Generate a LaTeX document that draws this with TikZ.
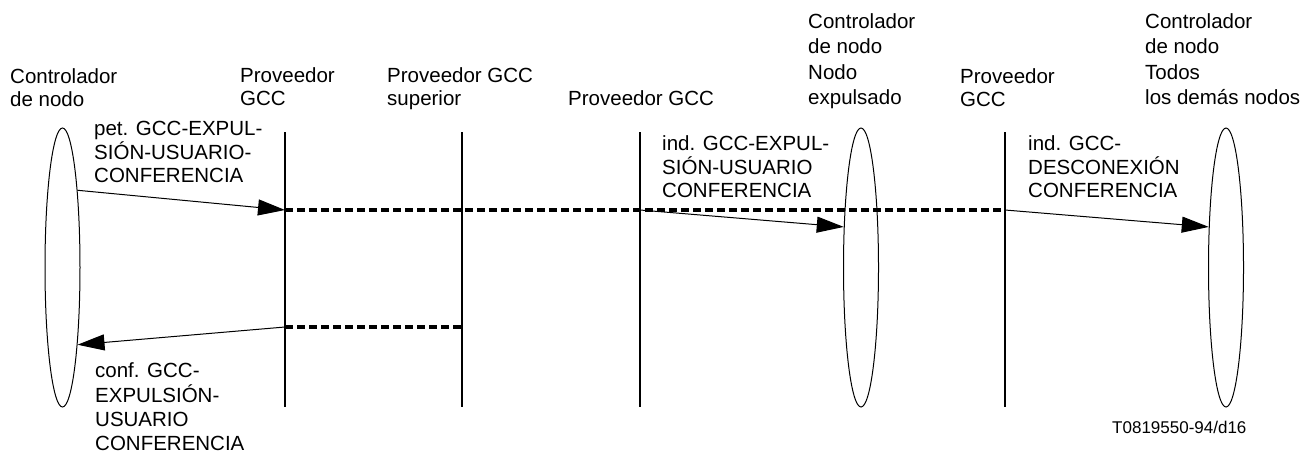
\documentclass[tikz,border=0pt]{standalone}
\usepackage{fontspec}
\setmainfont{Liberation Sans}
\usetikzlibrary{arrows.meta,shapes.geometric}
\newcommand\lbl[1]{\begin{tabular}[t]{@{}l@{}}#1\end{tabular}}
\begin{document}
\begin{tikzpicture}[x=1pt,y=-1pt,
  txt/.style={anchor=base west, inner sep=0pt, font=\fontsize{20.5}{23}\selectfont},
  txtw/.style={anchor=base west, inner sep=0pt, font=\fontsize{20.5}{25.5}\selectfont},
  txtm/.style={anchor=base west, inner sep=0pt, font=\fontsize{20.5}{24.3}\selectfont},
  codetxt/.style={anchor=base west, inner sep=0pt, font=\fontsize{17}{20}\selectfont},
  life/.style={line width=2pt},
  proc/.style={draw, ellipse, line width=1pt, minimum width=35pt, minimum height=279pt, inner sep=0pt},
  msg/.style={line width=1pt, -{Triangle[length=27pt,width=16pt]}},
  relay/.style={line width=3.5pt, dash pattern=on 8pt off 4pt}]
\useasboundingbox (0,0) rectangle (1300,453);

% processes (ellipses)
\node[proc] (cnA) at (62.5,267.5) {};
\node[proc] (cnB) at (861,267.5) {};
\node[proc] (cnC) at (1226,267.5) {};

% lifelines
\coordinate (g1t) at (285,132); \coordinate (g1b) at (285,407);
\coordinate (g2t) at (462,132); \coordinate (g2b) at (462,407);
\coordinate (g3t) at (640,132); \coordinate (g3b) at (640,407);
\coordinate (g4t) at (1005,132); \coordinate (g4b) at (1005,407);
\draw[life] (g1t) -- (g1b);
\draw[life] (g2t) -- (g2b);
\draw[life] (g3t) -- (g3b);
\draw[life] (g4t) -- (g4b);

% relay points
\coordinate (r1) at (285,210);
\coordinate (r3) at (640,210);
\coordinate (r4) at (1005,210);
\coordinate (s1) at (285,327);
\coordinate (s2) at (462,327);

\draw[relay] (r1) -- (r4);
\draw[relay] (s1) -- (s2);

% messages
\draw[msg] (cnA.79.3) -- (r1);
\draw[msg] (r3) -- (cnB.113.3);
\draw[msg] (r4) -- (cnC.113.3);
\draw[msg] (s1) -- (cnA.-79.6);

% headers
\node[txt] (h1) at (10,83) {\lbl{Controlador\\de nodo}};
\node[txt] (h2) at (240,82) {\lbl{Proveedor\\GCC}};
\node[txt] (h3) at (387,82) {\lbl{Proveedor GCC\\superior}};
\node[txt] (h4) at (568,105) {\lbl{Proveedor GCC}};
\node[txtw] (h5) at (808,28) {\lbl{Controlador\\de nodo\\Nodo\\expulsado}};
\node[txt] (h6) at (960,83) {\lbl{Proveedor\\GCC}};
\node[txtw] (h7) at (1145,28) {\lbl{Controlador\\de nodo\\Todos\\los demás nodos}};

% message labels
\node[txt] (m1) at (94,135) {\lbl{pet. GCC-EXPUL-\\SIÓN-USUARIO-\\CONFERENCIA}};
\node[txt] (m2) at (662,150) {\lbl{ind. GCC-EXPUL-\\SIÓN-USUARIO\\CONFERENCIA}};
\node[txt] (m3) at (1028,150) {\lbl{ind. GCC-\\DESCONEXIÓN\\CONFERENCIA}};
\node[txtm] (m4) at (95,377) {\lbl{conf. GCC-\\EXPULSIÓN-\\USUARIO\\CONFERENCIA}};

\node[codetxt] (code) at (1112,433) {T0819550-94/d16};
\end{tikzpicture}
\end{document}
